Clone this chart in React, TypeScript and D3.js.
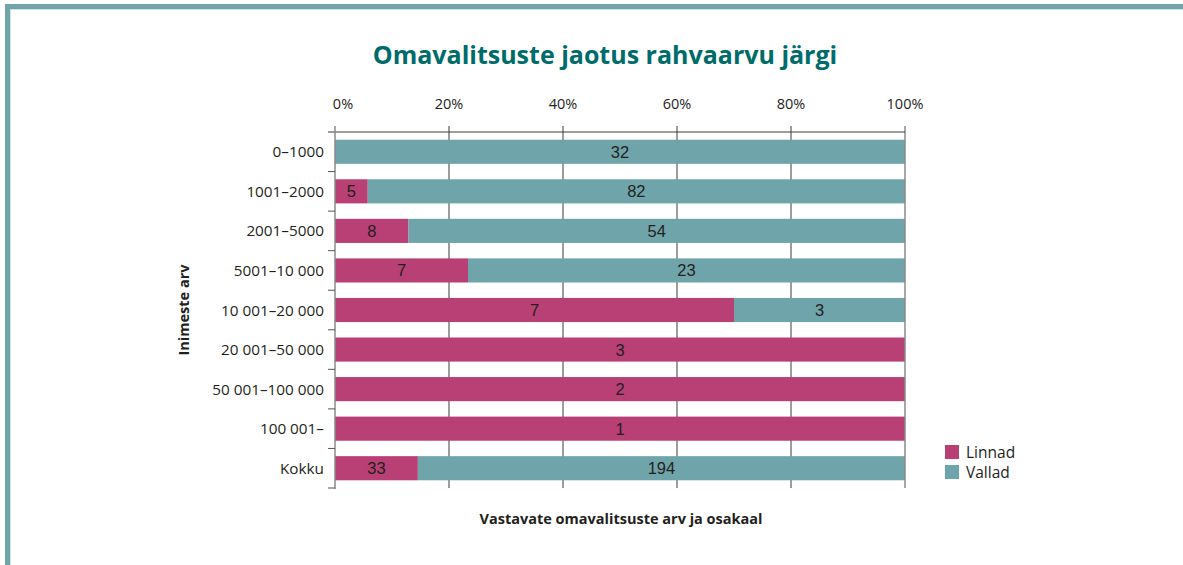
import * as d3 from "d3";

const categories = [
  "0–1000",
  "1001–2000",
  "2001–5000",
  "5001–10 000",
  "10 001–20 000",
  "20 001–50 000",
  "50 001–100 000",
  "100 001–",
  "Kokku",
];
const linnad = [0, 5, 8, 7, 7, 3, 2, 1, 33];
const vallad = [32, 82, 54, 23, 3, 0, 0, 0, 194];
const seriesNames = ["Linnad", "Vallad"];
const xTicks = [0, 0.2, 0.4, 0.6, 0.8, 1];

const PINK = "#b84074";
const TEAL = "#6fa5aa";
const INK = "#231f20";
const SANS = "'Open Sans', 'Noto Sans', sans-serif";
const ARIAL = "'Liberation Sans', Arial, sans-serif";

export default function App() {
  const width = 1183;
  const height = 565;

  const x = d3.scaleLinear().domain([0, 1]).range([335, 905]);
  const y = d3
    .scaleBand<string>()
    .domain(categories)
    .range([132, 488])
    .paddingInner(0.39)
    .paddingOuter(0.195);

  const rows = categories.map((c, i) => {
    const total = linnad[i] + vallad[i];
    return { c, l: linnad[i], v: vallad[i], pl: linnad[i] / total };
  });

  const bw = y.bandwidth();
  const step = y.step();
  // tick marks between bands on the left axis
  const bandTicks = d3.range(1, categories.length + 1).map((i) => 132 + i * step);

  return (
    <div style={{ position: "absolute", left: 0, top: 0 }}>
      <svg width={width} height={height} style={{ display: "block", background: "#fff" }}>
        {/* frame */}
        <rect x={5} y={4} width={width - 5} height={5} fill={TEAL} />
        <rect x={5} y={4} width={5} height={height - 4} fill={TEAL} />
        <rect x={10} y={9} width={width - 10} height={1} fill="#cfe3e3" />
        <rect x={10} y={9} width={1} height={height - 9} fill="#cfe3e3" />

        <text
          x={605}
          y={64}
          textAnchor="middle"
          fontFamily={SANS}
          fontWeight={700}
          fontSize={25}
          fill="#006b6b"
        >
          Omavalitsuste jaotus rahvaarvu järgi
        </text>

        {/* top axis labels */}
        {xTicks.map((t) => (
          <text
            key={"xl" + t}
            x={x(t) + (t === 0 ? 8 : 0)}
            y={109}
            textAnchor="middle"
            fontFamily={SANS}
            fontSize={14.5}
            fill={INK}
          >
            {d3.format(".0%")(t)}
          </text>
        ))}

        {/* gridlines (behind bars) */}
        {xTicks.slice(1, -1).map((t) => (
          <line key={"g" + t} x1={x(t)} x2={x(t)} y1={126} y2={488} stroke="#3a3a3a" strokeWidth={1} />
        ))}

        {/* bars */}
        {rows.map((r) => {
          const yy = y(r.c)!;
          return (
            <g key={r.c}>
              {r.l > 0 && (
                <rect x={x(0)} y={yy} width={x(r.pl) - x(0)} height={bw} fill={PINK} />
              )}
              {r.v > 0 && (
                <rect x={x(r.pl)} y={yy} width={x(1) - x(r.pl)} height={bw} fill={TEAL} />
              )}
              {r.l > 0 && (
                <text
                  x={(x(0) + x(r.pl)) / 2}
                  y={yy + bw / 2 + 6}
                  textAnchor="middle"
                  fontFamily={ARIAL}
                  fontSize={16.5}
                  fill={INK}
                >
                  {r.l}
                </text>
              )}
              {r.v > 0 && (
                <text
                  x={(x(r.pl) + x(1)) / 2}
                  y={yy + bw / 2 + 6}
                  textAnchor="middle"
                  fontFamily={ARIAL}
                  fontSize={16.5}
                  fill={INK}
                >
                  {r.v}
                </text>
              )}
              <text
                x={324}
                y={yy + bw / 2 + 5.5}
                textAnchor="end"
                fontFamily={SANS}
                fontSize={15.3}
                fill={INK}
              >
                {r.c}
              </text>
            </g>
          );
        })}

        <line x1={x(1)} x2={x(1)} y1={126} y2={488} stroke="#8a8a8a" strokeWidth={1.5} />

        {/* top axis */}
        <line x1={328} x2={x(1)} y1={132} y2={132} stroke="#3a3a3a" strokeWidth={1} />

        {/* left axis */}
        <line x1={335} x2={335} y1={126} y2={489} stroke="#8a8a8a" strokeWidth={1.5} />
        {bandTicks.map((ty, i) => (
          <line key={"bt" + i} x1={328} x2={335} y1={ty} y2={ty} stroke="#555" strokeWidth={1} />
        ))}

        {/* axis titles */}
        <text
          transform={`translate(189,${132 + (step * categories.length) / 2}) rotate(-90)`}
          textAnchor="middle"
          fontFamily={SANS}
          fontWeight={700}
          fontSize={14.5}
          fill={INK}
        >
          Inimeste arv
        </text>
        <text
          x={621}
          y={524}
          textAnchor="middle"
          fontFamily={SANS}
          fontWeight={700}
          fontSize={14.5}
          fill={INK}
        >
          Vastavate omavalitsuste arv ja osakaal
        </text>

        {/* legend */}
        {seriesNames.map((s, i) => (
          <g key={s} transform={`translate(945,${445 + i * 20})`}>
            <rect width={14} height={14} fill={i === 0 ? PINK : TEAL} />
            <text x={21} y={13} fontFamily={SANS} fontSize={15.5} fill={INK}>
              {s}
            </text>
          </g>
        ))}
      </svg>
    </div>
  );
}
